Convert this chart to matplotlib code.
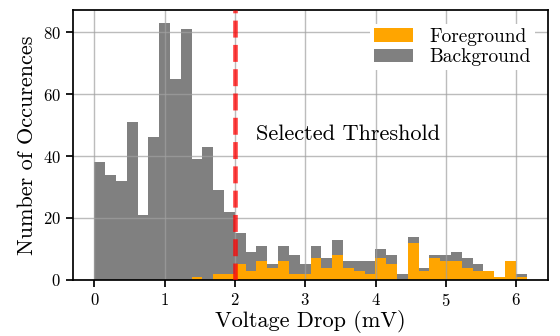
import numpy as np
import matplotlib
matplotlib.use("Agg")
import matplotlib.pyplot as plt

plt.rcParams['font.family'] = 'serif'
plt.rcParams['font.serif'] = ['cmr10']
plt.rcParams['mathtext.fontset'] = 'cm'
plt.rcParams['axes.formatter.use_mathtext'] = True

# Histogram data (counts per bin), 40 bins from 0 to 6.15 mV
bin_min, bin_max, n_bins = 0.0, 6.15, 40
foreground = [0, 0, 0, 0, 0, 0, 0, 0, 0, 1,
              0, 2, 2, 5, 3, 6, 4, 6, 2, 2,
              7, 4, 8, 4, 3, 2, 7, 5, 0, 12,
              3, 7, 6, 6, 4, 3, 3, 1, 6, 1]
background = [38, 34, 32, 51, 21, 46, 83, 65, 81, 38,
              43, 27, 20, 10, 6, 5, 1, 5, 6, 3,
              4, 3, 5, 2, 3, 4, 3, 3, 2, 2,
              1, 1, 2, 3, 3, 2, 0, 0, 0, 1]
threshold = 2.0
labels = ['Foreground', 'Background']
x_ticks = [0, 1, 2, 3, 4, 5, 6]
y_ticks = [0, 20, 40, 60, 80]

edges = np.linspace(bin_min, bin_max, n_bins + 1)
centers = (edges[:-1] + edges[1:]) / 2

fig = plt.figure(figsize=(5.6, 3.36), dpi=100)
ax = fig.add_axes([0.130, 0.167, 0.849, 0.803])

ax.hist([centers, centers], bins=edges, weights=[foreground, background],
        stacked=True, color=['orange', 'gray'], label=labels)
ax.axvline(threshold, color='red', alpha=0.75, linestyle='--', linewidth=3.3, zorder=3)
ax.text(threshold + 0.3, 47, 'Selected Threshold', fontsize=16, ha='left', va='center')

ax.grid(True, color='#a0a0a0', alpha=0.7, linewidth=1.0)
ax.set_xticks(x_ticks)
ax.set_yticks(y_ticks)
ax.tick_params(labelsize=12, width=1.25, length=5)
for s in ax.spines.values():
    s.set_linewidth(1.25)

ax.set_xlabel('Voltage Drop (mV)', fontsize=16, labelpad=1)
ax.set_ylabel('Number of Occurences', fontsize=16, labelpad=4)

leg = ax.legend(loc='upper right', fontsize=14, frameon=True, framealpha=1.0,
                edgecolor='none', facecolor='white', borderpad=0.2,
                handletextpad=0.85, labelspacing=0.15, borderaxespad=0.7)

fig.savefig('out.png', dpi=100)
